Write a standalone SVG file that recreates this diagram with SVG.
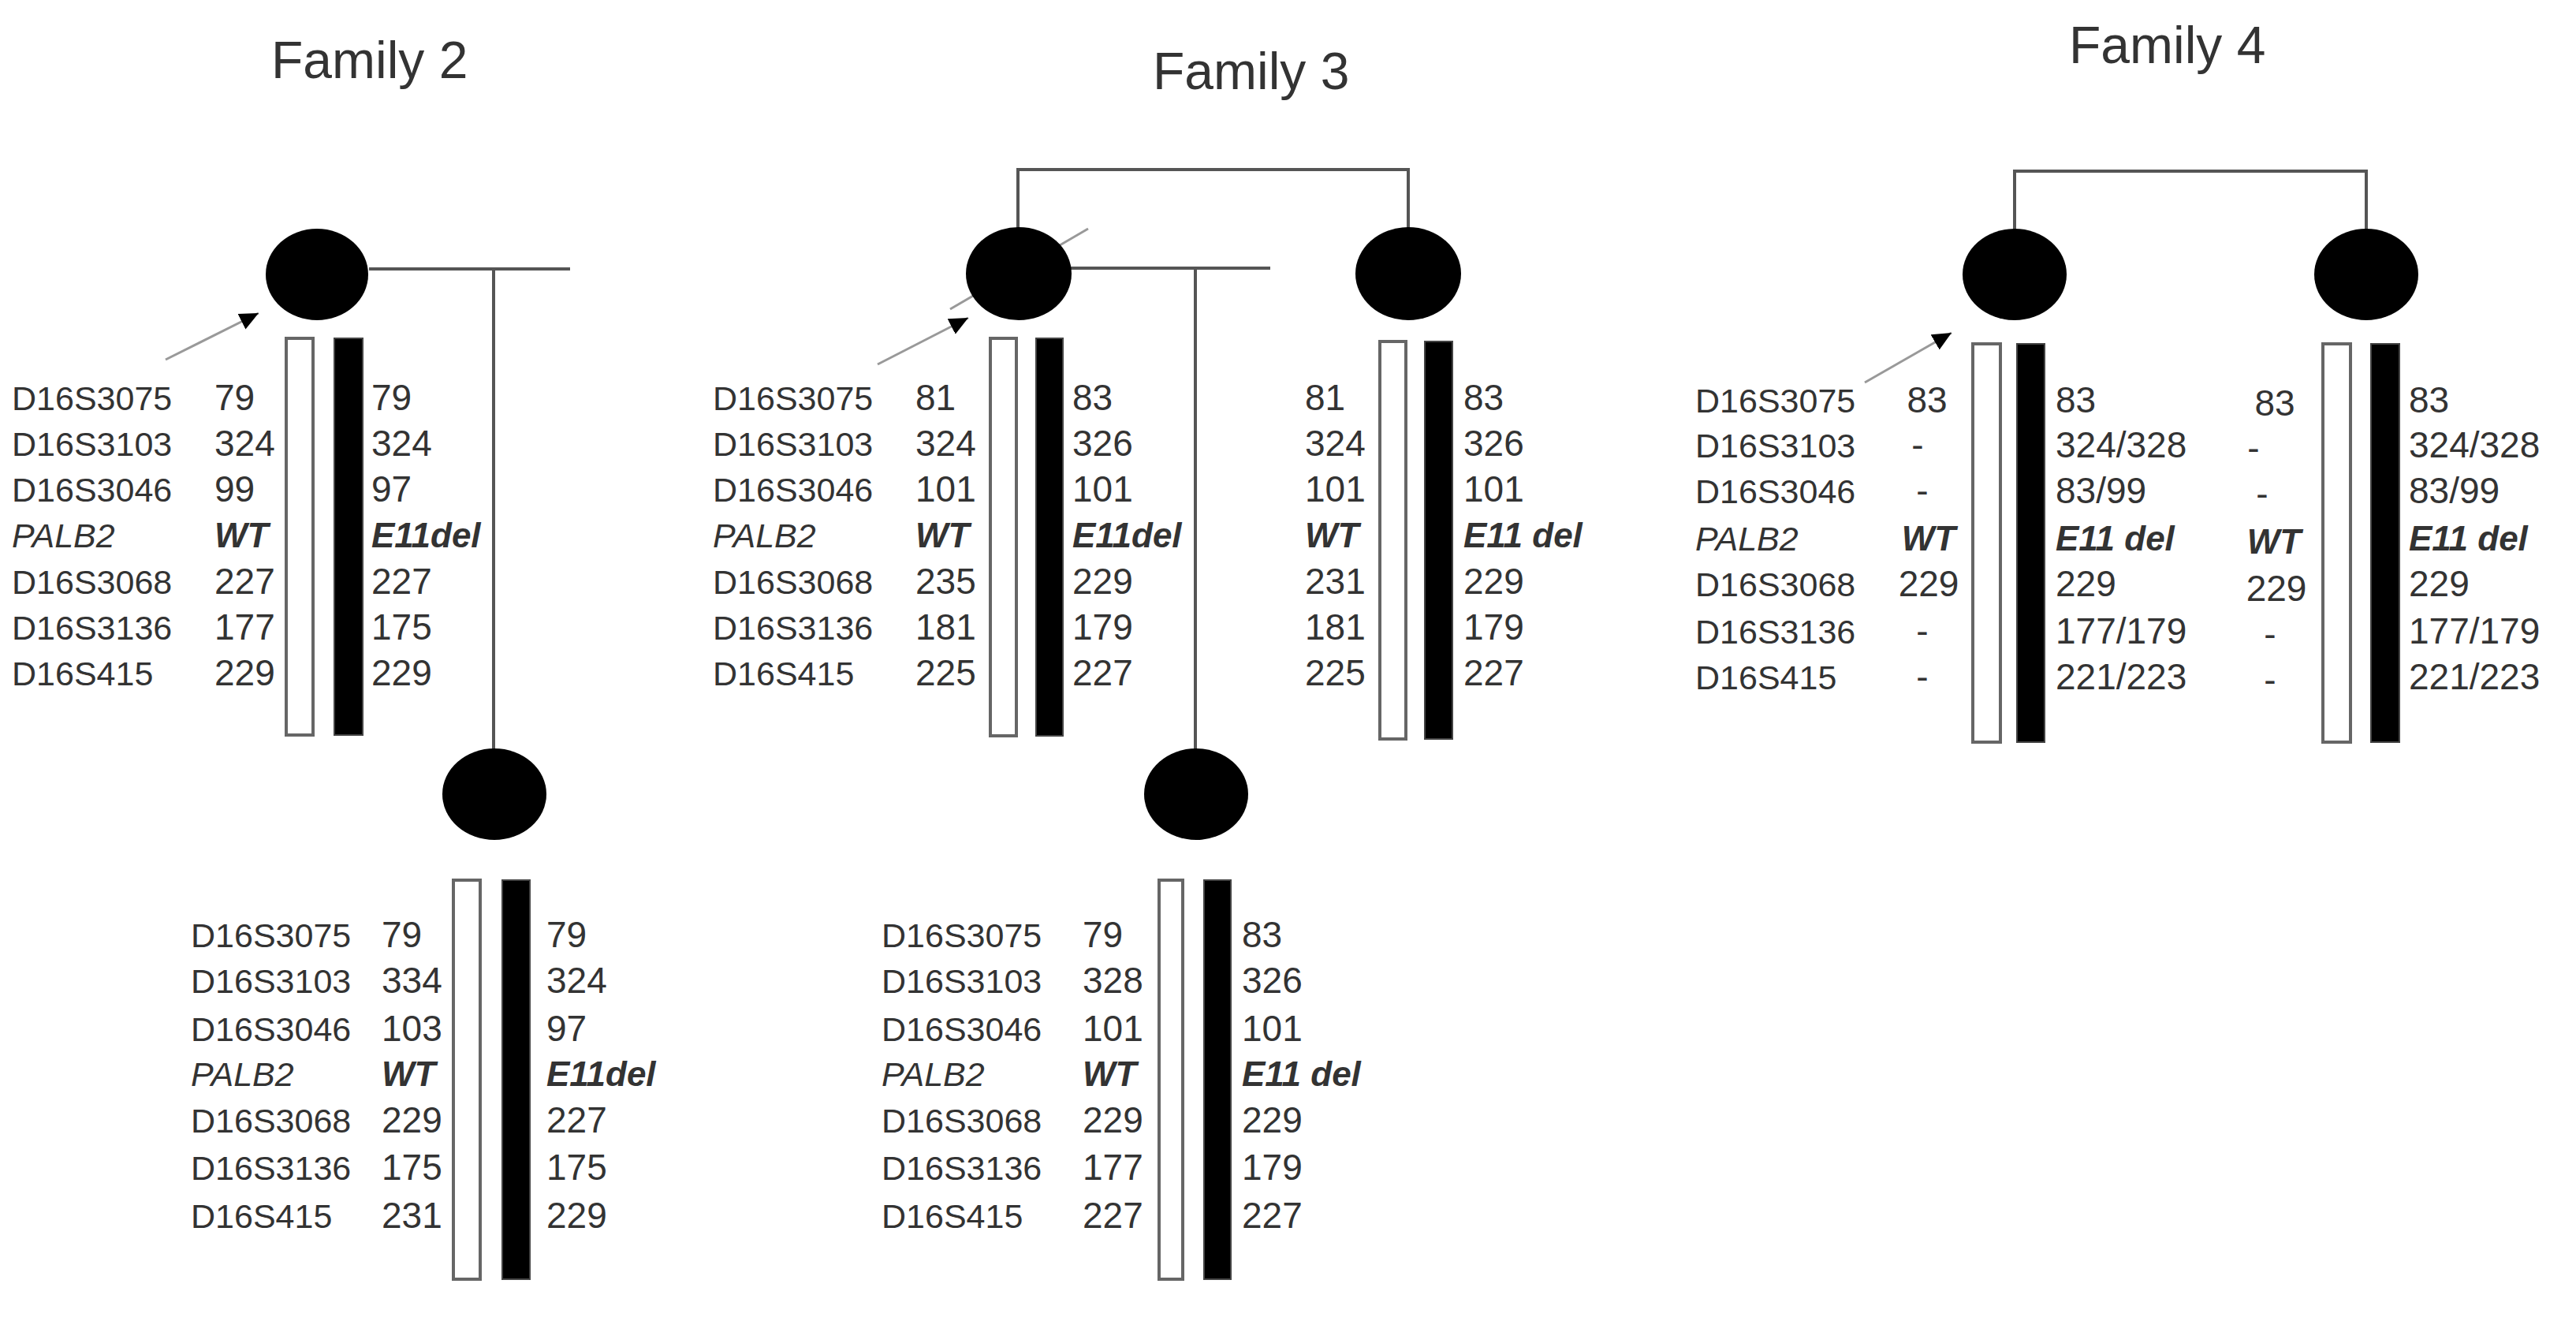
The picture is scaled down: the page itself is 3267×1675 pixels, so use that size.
<svg xmlns="http://www.w3.org/2000/svg" width="3267" height="1675" viewBox="0 0 3267 1675">
<style>
text{font-family:"Liberation Sans",Arial,sans-serif;fill:#333;font-size:46px}
.t{font-size:66px}
.m{font-size:43px}
.i{font-style:italic;font-size:43px}
.b{font-style:italic;font-weight:bold;font-size:44px}
.c{text-anchor:middle}
.ln{stroke:#555;stroke-width:4;fill:none}
.ar{stroke:#999;stroke-width:3;fill:none}
.p{fill:#000}
.o{fill:#fff;stroke:#666;stroke-width:4}
.k{fill:#000;stroke:#444;stroke-width:2}
</style>
<defs>
<marker id="ah" markerUnits="userSpaceOnUse" markerWidth="26" markerHeight="22" refX="24" refY="11" orient="auto">
<path d="M0,0 L24,11 L0,22 Z" fill="#000"/>
</marker>
</defs>
<rect width="3267" height="1675" fill="#fff"/>
<g id="titles">
<text class="t" x="344" y="99">Family 2</text>
<text class="t" x="1462" y="113">Family 3</text>
<text class="t" x="2624" y="80">Family 4</text>
</g>
<g id="connectors">
<line class="ln" x1="468" y1="341" x2="723" y2="341"/>
<line class="ln" x1="626" y1="341" x2="626" y2="952"/>
<polyline class="ln" points="1291,290 1291,215 1786,215 1786,290"/>
<line class="ln" x1="1358" y1="340" x2="1611" y2="340"/>
<line class="ln" x1="1516" y1="340" x2="1516" y2="952"/>
<polyline class="ln" points="2555,292 2555,217 3001,217 3001,292"/>
<line class="ar" x1="1205" y1="392" x2="1380" y2="290"/>
<line class="ar" x1="210" y1="456" x2="328" y2="397" marker-end="url(#ah)"/>
<line class="ar" x1="1113" y1="462" x2="1228" y2="403" marker-end="url(#ah)"/>
<line class="ar" x1="2365" y1="485" x2="2475" y2="422" marker-end="url(#ah)"/>
</g>
<g id="f2-proband">
<ellipse class="p" cx="402" cy="348" rx="65" ry="58"/>
<rect class="o" x="363" y="429" width="34" height="503"/>
<rect class="k" x="424" y="429" width="36" height="503"/>
<text class="m" x="15" y="520">D16S3075</text><text class="m" x="15" y="578">D16S3103</text><text class="m" x="15" y="636">D16S3046</text><text class="i" x="15" y="694">PALB2</text><text class="m" x="15" y="753">D16S3068</text><text class="m" x="15" y="811">D16S3136</text><text class="m" x="15" y="869">D16S415</text>
<text x="272" y="520">79</text><text x="272" y="578">324</text><text x="272" y="636">99</text><text class="b" x="272" y="694">WT</text><text x="272" y="753">227</text><text x="272" y="811">177</text><text x="272" y="869">229</text>
<text x="471" y="520">79</text><text x="471" y="578">324</text><text x="471" y="636">97</text><text class="b" x="471" y="694">E11del</text><text x="471" y="753">227</text><text x="471" y="811">175</text><text x="471" y="869">229</text>
</g>
<g id="f2-child">
<ellipse class="p" cx="627" cy="1007" rx="66" ry="58"/>
<rect class="o" x="575" y="1116" width="34" height="506"/>
<rect class="k" x="637" y="1116" width="35" height="506"/>
<text class="m" x="242" y="1201">D16S3075</text><text class="m" x="242" y="1259">D16S3103</text><text class="m" x="242" y="1320">D16S3046</text><text class="i" x="242" y="1377">PALB2</text><text class="m" x="242" y="1436">D16S3068</text><text class="m" x="242" y="1496">D16S3136</text><text class="m" x="242" y="1557">D16S415</text>
<text x="484" y="1201">79</text><text x="484" y="1259">334</text><text x="484" y="1320">103</text><text class="b" x="484" y="1377">WT</text><text x="484" y="1436">229</text><text x="484" y="1496">175</text><text x="484" y="1557">231</text>
<text x="693" y="1201">79</text><text x="693" y="1259">324</text><text x="693" y="1320">97</text><text class="b" x="693" y="1377">E11del</text><text x="693" y="1436">227</text><text x="693" y="1496">175</text><text x="693" y="1557">229</text>
</g>
<g id="f3-proband">
<ellipse class="p" cx="1292" cy="347" rx="67" ry="59"/>
<rect class="o" x="1256" y="429" width="33" height="504"/>
<rect class="k" x="1314" y="429" width="34" height="504"/>
<text class="m" x="904" y="520">D16S3075</text><text class="m" x="904" y="578">D16S3103</text><text class="m" x="904" y="636">D16S3046</text><text class="i" x="904" y="694">PALB2</text><text class="m" x="904" y="753">D16S3068</text><text class="m" x="904" y="811">D16S3136</text><text class="m" x="904" y="869">D16S415</text>
<text x="1161" y="520">81</text><text x="1161" y="578">324</text><text x="1161" y="636">101</text><text class="b" x="1161" y="694">WT</text><text x="1161" y="753">235</text><text x="1161" y="811">181</text><text x="1161" y="869">225</text>
<text x="1360" y="520">83</text><text x="1360" y="578">326</text><text x="1360" y="636">101</text><text class="b" x="1360" y="694">E11del</text><text x="1360" y="753">229</text><text x="1360" y="811">179</text><text x="1360" y="869">227</text>
</g>
<g id="f3-sister">
<ellipse class="p" cx="1786" cy="347" rx="67" ry="59"/>
<rect class="o" x="1750" y="433" width="33" height="504"/>
<rect class="k" x="1807" y="433" width="35" height="504"/>
<text x="1655" y="520">81</text><text x="1655" y="578">324</text><text x="1655" y="636">101</text><text class="b" x="1655" y="694">WT</text><text x="1655" y="753">231</text><text x="1655" y="811">181</text><text x="1655" y="869">225</text>
<text x="1856" y="520">83</text><text x="1856" y="578">326</text><text x="1856" y="636">101</text><text class="b" x="1856" y="694">E11 del</text><text x="1856" y="753">229</text><text x="1856" y="811">179</text><text x="1856" y="869">227</text>
</g>
<g id="f3-child">
<ellipse class="p" cx="1517" cy="1007" rx="66" ry="58"/>
<rect class="o" x="1470" y="1116" width="30" height="506"/>
<rect class="k" x="1527" y="1116" width="34" height="506"/>
<text class="m" x="1118" y="1201">D16S3075</text><text class="m" x="1118" y="1259">D16S3103</text><text class="m" x="1118" y="1320">D16S3046</text><text class="i" x="1118" y="1377">PALB2</text><text class="m" x="1118" y="1436">D16S3068</text><text class="m" x="1118" y="1496">D16S3136</text><text class="m" x="1118" y="1557">D16S415</text>
<text x="1373" y="1201">79</text><text x="1373" y="1259">328</text><text x="1373" y="1320">101</text><text class="b" x="1373" y="1377">WT</text><text x="1373" y="1436">229</text><text x="1373" y="1496">177</text><text x="1373" y="1557">227</text>
<text x="1575" y="1201">83</text><text x="1575" y="1259">326</text><text x="1575" y="1320">101</text><text class="b" x="1575" y="1377">E11 del</text><text x="1575" y="1436">229</text><text x="1575" y="1496">179</text><text x="1575" y="1557">227</text>
</g>
<g id="f4-proband">
<ellipse class="p" cx="2555" cy="348" rx="66" ry="58"/>
<rect class="o" x="2502" y="436" width="35" height="505"/>
<rect class="k" x="2558" y="436" width="35" height="505"/>
<text class="m" x="2150" y="523">D16S3075</text><text class="m" x="2150" y="580">D16S3103</text><text class="m" x="2150" y="638">D16S3046</text><text class="i" x="2150" y="698">PALB2</text><text class="m" x="2150" y="756">D16S3068</text><text class="m" x="2150" y="816">D16S3136</text><text class="m" x="2150" y="874">D16S415</text>
<text class="c" x="2444" y="523">83</text><text class="c" x="2432" y="580">-</text><text class="c" x="2438" y="638">-</text><text class="b c" x="2446" y="698">WT</text><text class="c" x="2446" y="756">229</text><text class="c" x="2438" y="816">-</text><text class="c" x="2438" y="874">-</text>
<text x="2607" y="523">83</text><text x="2607" y="580">324/328</text><text x="2607" y="638">83/99</text><text class="b" x="2607" y="698">E11 del</text><text x="2607" y="756">229</text><text x="2607" y="816">177/179</text><text x="2607" y="874">221/223</text>
</g>
<g id="f4-sister">
<ellipse class="p" cx="3001" cy="348" rx="66" ry="58"/>
<rect class="o" x="2946" y="436" width="35" height="505"/>
<rect class="k" x="3007" y="436" width="36" height="505"/>
<text class="c" x="2885" y="527">83</text><text class="c" x="2858" y="584">-</text><text class="c" x="2869" y="642">-</text><text class="b c" x="2884" y="702">WT</text><text class="c" x="2887" y="762">229</text><text class="c" x="2879" y="820">-</text><text class="c" x="2879" y="878">-</text>
<text x="3055" y="523">83</text><text x="3055" y="580">324/328</text><text x="3055" y="638">83/99</text><text class="b" x="3055" y="698">E11 del</text><text x="3055" y="756">229</text><text x="3055" y="816">177/179</text><text x="3055" y="874">221/223</text>
</g>
</svg>
